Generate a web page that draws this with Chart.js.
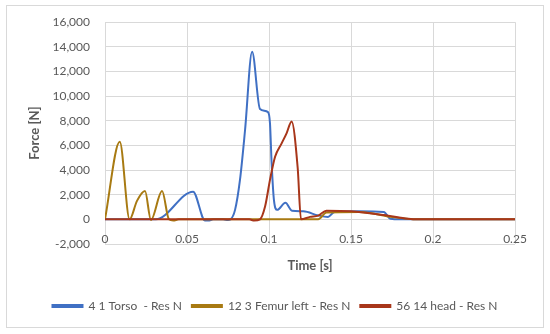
<!DOCTYPE html>
<html>
<head>
<meta charset="utf-8">
<script src="https://cdn.jsdelivr.net/npm/chart.js@4"></script>
<style>
  html, body { margin: 0; padding: 0; background: #fff; }
  canvas { display: block; }
</style>
</head>
<body>
<canvas id="forceChart" width="550" height="334"></canvas>
<script>
const seriesNames = ['4 1 Torso  - Res N', '12 3 Femur left - Res N', '56 14 head - Res N'];
const seriesColors = ['#4070c4', '#a87a12', '#a8361a'];

const torsoTime = [0, 0.031, 0.0537, 0.061, 0.063, 0.066, 0.072, 0.075, 0.0765, 0.0793, 0.0823, 0.0854, 0.0897, 0.0945, 0.0994, 0.1006, 0.1016, 0.103, 0.105, 0.110, 0.114, 0.121, 0.130, 0.136, 0.140, 0.155, 0.170, 0.174, 0.180, 0.25];
const torsoForce = [0, 0, 2250, -100, -100, 0, 0, -50, 0, 770, 3200, 7250, 13600, 8950, 8700, 7790, 4570, 1580, 770, 1340, 700, 650, 320, 200, 600, 650, 600, 50, 0, 0];

const femurTime = [0, 0.009, 0.015, 0.0195, 0.0244, 0.028, 0.0348, 0.039, 0.0416, 0.045, 0.130, 0.135, 0.155, 0.175, 0.190, 0.25];
const femurForce = [0, 6300, 0, 1500, 2300, -50, 2300, 0, -100, 0, 0, 550, 600, 200, 0, 0];

const headTime = [0, 0.088, 0.091, 0.0945, 0.0976, 0.1006, 0.1037, 0.1077, 0.1107, 0.1138, 0.1175, 0.1195, 0.125, 0.130, 0.135, 0.150, 0.170, 0.185, 0.190, 0.25];
const headForce = [0, 0, -100, 0, 1040, 3200, 5080, 6170, 6980, 7950, 4170, 0, 200, 300, 700, 650, 350, 50, 0, 0];

const xTicks = [0, 0.05, 0.1, 0.15, 0.2, 0.25];
const yTicks = [-2000, 0, 2000, 4000, 6000, 8000, 10000, 12000, 14000, 16000];

function toPoints(times, values) {
    return times.map((t, i) => ({ x: t, y: values[i] }));
}

const frame = {
    id: 'frame',
    beforeDraw(chart) {
        const c = chart.ctx;
        c.save();
        c.fillStyle = '#fff';
        c.fillRect(0, 0, chart.width, chart.height);
        c.strokeStyle = '#d9d9d9';
        c.lineWidth = 1;
        c.strokeRect(6.5, 5.5, 537, 322);
        c.restore();
    }
};

const fontFamily = 'Lato, "Open Sans", sans-serif';
const gray = '#595959';

const ctx = document.getElementById('forceChart').getContext('2d');
new Chart(ctx, {
    type: 'line',
    data: {
        datasets: [
            { label: seriesNames[0], data: toPoints(torsoTime, torsoForce), borderColor: seriesColors[0], backgroundColor: seriesColors[0], order: 2 },
            { label: seriesNames[1], data: toPoints(femurTime, femurForce), borderColor: seriesColors[1], backgroundColor: seriesColors[1], order: 1 },
            { label: seriesNames[2], data: toPoints(headTime, headForce), borderColor: seriesColors[2], backgroundColor: seriesColors[2], order: 0 }
        ]
    },
    options: {
        responsive: false,
        animation: false,
        elements: {
            line: { borderWidth: 2, cubicInterpolationMode: 'monotone', fill: false },
            point: { radius: 0 }
        },
        layout: { padding: { top: 21, right: 0, bottom: 12, left: 0 } },
        scales: {
            x: {
                type: 'linear',
                min: 0,
                max: 0.25,
                afterBuildTicks: (scale) => { scale.ticks = xTicks.map(v => ({ value: v })); },
                ticks: {
                    mirror: true,
                    padding: -2,
                    color: gray,
                    font: { family: fontFamily, size: 12 },
                    callback: (v) => String(+Number(v).toFixed(2))
                },
                grid: { color: '#d9d9d9', drawTicks: false },
                border: { display: false },
                title: {
                    display: true,
                    text: 'Time [s]',
                    color: gray,
                    font: { family: fontFamily, size: 13, weight: 'bold' },
                    padding: { top: 0, bottom: 16 }
                },
                afterFit: (scale) => { scale.height = 46; }
            },
            y: {
                min: -2000,
                max: 16000,
                afterBuildTicks: (scale) => { scale.ticks = yTicks.map(v => ({ value: v })); },
                ticks: {
                    padding: 15,
                    color: gray,
                    font: { family: fontFamily, size: 12 },
                    callback: (v) => Number(v).toLocaleString('en-US')
                },
                grid: { color: '#d9d9d9', drawTicks: false },
                border: { display: false },
                title: {
                    display: true,
                    text: 'Force [N]',
                    color: gray,
                    font: { family: fontFamily, size: 13, weight: 'bold' },
                    padding: { top: 27, bottom: 0 }
                },
                afterFit: (scale) => { scale.width = 105; }
            },
            spacer: {
                type: 'linear',
                position: 'right',
                display: true,
                ticks: { display: false },
                grid: { display: false },
                border: { display: false },
                afterFit: (scale) => { scale.width = 35; }
            }
        },
        plugins: {
            legend: {
                position: 'bottom',
                labels: {
                    boxWidth: 30,
                    boxHeight: 2,
                    padding: 10,
                    color: gray,
                    font: { family: fontFamily, size: 12 },
                    sort: (a, b) => a.datasetIndex - b.datasetIndex
                }
            },
            tooltip: { enabled: false }
        }
    },
    plugins: [frame]
});
</script>
</body>
</html>
